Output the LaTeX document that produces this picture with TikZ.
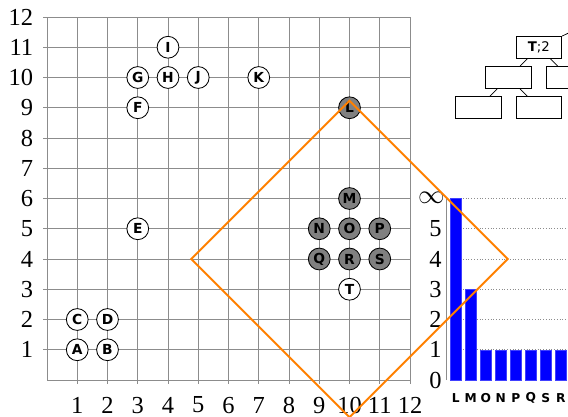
\documentclass[tikz,border=0pt]{standalone}
\usepackage{fontspec}
\setmainfont{Liberation Serif}
\newfontfamily\nodefont{DejaVu Sans}
\definecolor{dorange}{HTML}{FF8000}
\definecolor{gridgray}{HTML}{8C8C8C}
\begin{document}
\begin{tikzpicture}[
  gridline/.style={draw=gridgray, line width=0.8pt},
  dotline/.style={draw=gridgray, dotted, line width=0.6pt},
  vnode/.style={circle, draw=black, line width=0.8pt, fill=white, minimum size=0.72cm, inner sep=0pt, font=\nodefont\fontsize{13}{13}\selectfont\bfseries},
  gnode/.style={vnode, fill=black!50},
  ticklabel/.style={font=\fontsize{23}{23}\selectfont, inner sep=0pt},
  barstyle/.style={fill=blue, draw=blue!75!white, line width=0.4pt},
  barlabel/.style={font=\nodefont\fontsize{11.5}{11.5}\selectfont\bfseries, inner sep=0pt},
  treebox/.style={draw=black, fill=white, line width=0.7pt, minimum width=1.52cm, minimum height=0.73cm, inner sep=0pt, font=\nodefont\fontsize{12.5}{12.5}\selectfont},
  treeedge/.style={draw=black, line width=0.7pt},
  diamondline/.style={draw=dorange, line width=1.8pt, line join=miter}
]
\useasboundingbox (-1.554,-1.223) rectangle (17.223,12.562);

% main grid
\foreach \i in {1,...,12} {
  \draw[gridline] (\i,-0.13) -- (\i,12);
  \draw[gridline] (-0.13,\i) -- (12,\i);
}
\draw[gridline] (0,0) -- (12,0);
\draw[gridline] (0,0) -- (0,12);
\foreach \i in {1,...,12} {
  \node[ticklabel] (xl\i) at (\i,-0.83) {\i};
  \node[ticklabel, anchor=east] (yl\i) at (-0.45,\i) {\i};
}

% bar chart
\foreach \i in {1,...,6} {
  \draw[dotline] (13.75,\i) -- (17.3,\i);
}
\draw[gridline] (13.21,0) -- (13.21,6);
\foreach \i in {0,...,5} {
  \node[ticklabel, anchor=east] (bl\i) at (13.05,\i) {\i};
}
\node[ticklabel, anchor=east] (blinf) at (13.15,6.03) {$\infty$};
\foreach \l/\h [count=\k from 0] in {L/6,M/3,O/1,N/1,P/1,Q/1,S/1,R/1} {
  \fill[barstyle] (13.32+0.496*\k,0) rectangle ++(0.387,\h);
  \node[barlabel] (bar\l) at (13.5135+0.496*\k,-0.6) {\l};
}

% tree
\node[treebox] (T) at (16.26,11) {\textbf{T};2};
\node[treebox] (c1) at (15.26,10) {};
\node[treebox] (c2) at (17.26,10) {};
\node[treebox] (g1) at (14.26,9) {};
\node[treebox] (g2) at (16.26,9) {};
\coordinate (par) at (18.34,12);
\draw[treeedge] (T) -- (par);
\draw[treeedge] (T) -- (c1);
\draw[treeedge] (T) -- (c2);
\draw[treeedge] (c1) -- (g1);
\draw[treeedge] (c1) -- (g2);

% vertices
\node[vnode] (A) at (1,1) {A};
\node[vnode] (B) at (2,1) {B};
\node[vnode] (C) at (1,2) {C};
\node[vnode] (D) at (2,2) {D};
\node[vnode] (E) at (3,5) {E};
\node[vnode] (F) at (3,9) {F};
\node[vnode] (G) at (3,10) {G};
\node[vnode] (H) at (4,10) {H};
\node[vnode] (I) at (4,11) {I};
\node[vnode] (J) at (5,10) {J};
\node[vnode] (K) at (7,10) {K};
\node[gnode] (L) at (10,9) {L};
\node[gnode] (M) at (10,6) {M};
\node[gnode] (N) at (9,5) {N};
\node[gnode] (O) at (10,5) {O};
\node[gnode] (P) at (11,5) {P};
\node[gnode] (Q) at (9,4) {Q};
\node[gnode] (R) at (10,4) {R};
\node[gnode] (S) at (11,4) {S};
\node[vnode] (Tn) at (10,3) {T};

% diamond
\coordinate (dt) at (10,9.23);
\coordinate (dl) at (4.77,4);
\coordinate (db) at (10,-1.23);
\coordinate (dr) at (15.23,4);
\draw[diamondline] (dt) -- (dr) -- (db) -- (dl) -- cycle;
\end{tikzpicture}
\end{document}
